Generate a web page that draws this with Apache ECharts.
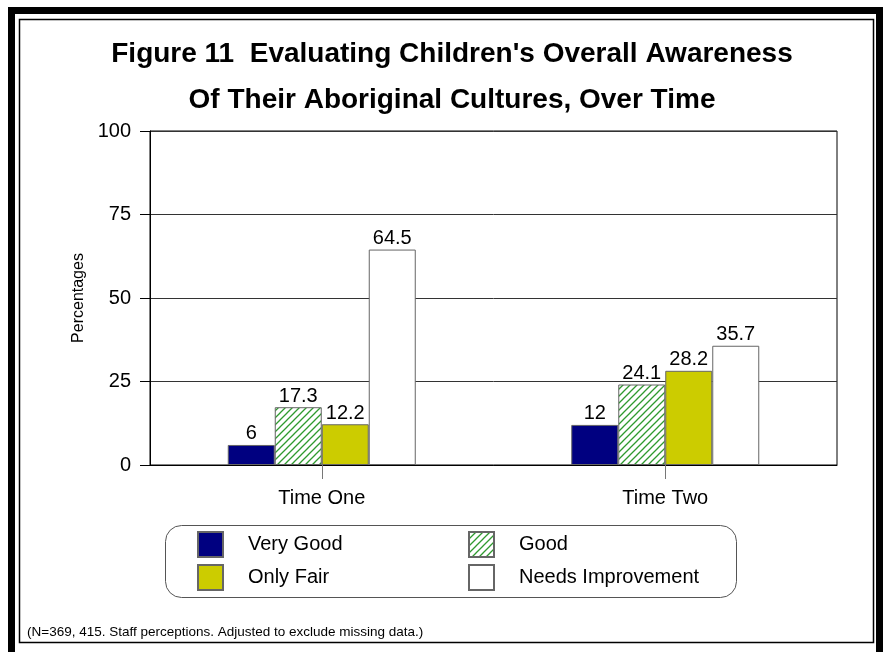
<!DOCTYPE html>
<html>
<head>
<meta charset="utf-8">
<script src="https://cdn.jsdelivr.net/npm/echarts@6/dist/echarts.min.js"></script>
<style>
  html, body { margin: 0; padding: 0; background: #fff; }
  #chart { width: 888px; height: 652px; }
</style>
</head>
<body>
<div id="chart"></div>
<script>
  var categories = ['Time One', 'Time Two'];
  var veryGood = [6, 12];
  var good = [17.3, 24.1];
  var onlyFair = [12.2, 28.2];
  var needsImprovement = [64.5, 35.7];
  var yTicks = [0, 25, 50, 75, 100];

  // green diagonal hatch for the "Good" bars
  var hatch = document.createElement('canvas');
  hatch.width = 7;
  hatch.height = 7;
  var hc = hatch.getContext('2d');
  hc.fillStyle = '#fff';
  hc.fillRect(0, 0, 7, 7);
  hc.strokeStyle = '#2f9a2f';
  hc.lineWidth = 1.3;
  hc.beginPath();
  hc.moveTo(-1, 8); hc.lineTo(8, -1);
  hc.moveTo(-1, 1); hc.lineTo(1, -1);
  hc.moveTo(6, 8); hc.lineTo(8, 6);
  hc.stroke();

  var dom = document.getElementById('chart');
  var myChart = echarts.init(dom);
  var font = 'Arial, "Liberation Sans", sans-serif';

  var labelStyle = {
      show: true,
      position: 'top',
      distance: 1,
      color: '#000',
      fontSize: 20,
      fontFamily: font
  };

  function bar(name, data, color, border) {
      return {
          name: name,
          type: 'bar',
          data: data,
          barWidth: 47,
          barGap: '0%',
          label: labelStyle,
          itemStyle: { color: color, borderColor: border, borderWidth: 1 }
      };
  }

  var legendText = { fontSize: 20, fontFamily: font, color: '#000', padding: [0, 0, 0, 20] };

  var option = {
      animation: false,
      backgroundColor: '#fff',
      title: {
          text: "Figure 11  Evaluating Children's Overall Awareness\nOf Their Aboriginal Cultures, Over Time",
          left: 452,
          top: 31,
          padding: 0,
          textAlign: 'center',
          textStyle: {
              fontFamily: font,
              fontWeight: 'bold',
              fontSize: 28,
              lineHeight: 46,
              color: '#000'
          }
      },
      grid: {
          left: 150,
          right: 51,
          top: 131,
          bottom: 187,
          show: true,
          borderColor: '#000',
          borderWidth: 1
      },
      legend: [
          {
              data: ['Very Good', 'Only Fair'],
              orient: 'vertical',
              left: 197,
              top: 531,
              padding: 0,
              itemWidth: 25,
              itemHeight: 25,
              itemGap: 6,
              icon: 'rect',
              textStyle: legendText
          },
          {
              data: ['Good', 'Needs Improvement'],
              orient: 'vertical',
              left: 468,
              top: 531,
              padding: 0,
              itemWidth: 25,
              itemHeight: 25,
              itemGap: 6,
              icon: 'rect',
              textStyle: legendText
          }
      ],
      xAxis: {
          type: 'category',
          data: categories,
          axisLine: { lineStyle: { color: '#000', width: 1 } },
          axisTick: { show: true, alignWithLabel: true, length: 14, lineStyle: { color: '#777' } },
          axisLabel: { color: '#000', fontSize: 20, fontFamily: font, margin: 23 }
      },
      yAxis: {
          type: 'value',
          min: yTicks[0],
          max: yTicks[yTicks.length - 1],
          interval: 25,
          name: 'Percentages',
          nameLocation: 'middle',
          nameRotate: 90,
          nameGap: 56,
          nameTextStyle: { color: '#000', fontSize: 16, fontFamily: font },
          axisLine: { show: true, lineStyle: { color: '#000' } },
          axisTick: { show: true, length: 10, lineStyle: { color: '#000' } },
          axisLabel: { color: '#000', fontSize: 20, fontFamily: font, margin: 19 },
          splitLine: { lineStyle: { color: '#333', width: 1 } }
      },
      graphic: [
          { type: 'rect', shape: { x: 11.5, y: 10.5, width: 868, height: 645 },
            style: { fill: 'none', stroke: '#000', lineWidth: 7 } },
          { type: 'rect', shape: { x: 19.5, y: 19.5, width: 854, height: 623 },
            style: { fill: 'none', stroke: '#000', lineWidth: 1.5 } },
          { type: 'rect', shape: { x: 165.5, y: 525.5, width: 571, height: 72, r: 16 },
            style: { fill: 'none', stroke: '#555', lineWidth: 1 } },
          { type: 'text', left: 27, top: 625,
            style: { text: '(N=369, 415. Staff perceptions. Adjusted to exclude missing data.)',
                     fontSize: 13.5, fontFamily: font, fill: '#000' } }
      ],
      series: [
          bar('Very Good', veryGood, '#000080', '#666'),
          bar('Good', good, { image: hatch, repeat: 'repeat' }, '#666'),
          bar('Only Fair', onlyFair, '#cccc00', '#666'),
          bar('Needs Improvement', needsImprovement, '#ffffff', '#666')
      ]
  };

  if (option && typeof option === 'object') {
      myChart.setOption(option, true);
  }
</script>
</body>
</html>
